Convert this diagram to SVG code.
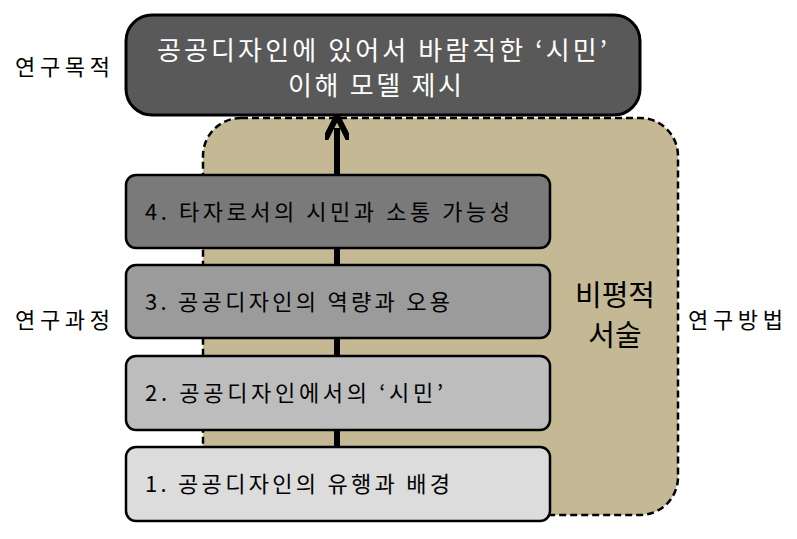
<svg xmlns="http://www.w3.org/2000/svg" width="797" height="539" viewBox="0 0 797 539">
<style>
text{font-family:"Noto Sans CJK KR","Noto Sans",sans-serif}
.b{stroke:#000;stroke-width:2.5}
.t{font-size:22px;fill:#000}
.l{font-size:22px;fill:#000}
</style>
<defs><marker id="ah" markerWidth="4" markerHeight="4" refX="2" refY="2" orient="auto" markerUnits="strokeWidth"><path d="M0,0 L4,2 L0,4" fill="none" stroke="#000" stroke-width="1"/></marker></defs>
<rect width="797" height="539" fill="#fff"/>
<g id="method"><rect x="203" y="118" width="475" height="397" rx="38" fill="#c5b995" stroke="#000" stroke-width="2.5" stroke-dasharray="7,4"/>
<text x="615" y="306" font-size="29" text-anchor="middle">비평적</text><text x="615" y="346" font-size="29" text-anchor="middle">서술</text></g>
<g id="connectors"><line x1="337" y1="450" x2="337" y2="128" stroke="#000" stroke-width="6" marker-end="url(#ah)"/></g>
<g id="goal"><rect x="126" y="15" width="514" height="100" rx="26" fill="#595959" stroke="#000" stroke-width="3"/>
<text x="157" y="60" font-size="26" fill="#fff" textLength="450" lengthAdjust="spacing">공공디자인에 있어서 바람직한 ‘시민’</text>
<text x="288" y="95" font-size="26" fill="#fff" textLength="174" lengthAdjust="spacing">이해 모델 제시</text></g>
<g id="n4"><rect class="b" x="126" y="175" width="424" height="73" rx="10" fill="#7a7a7a"/><text class="t" x="145" y="220" textLength="365" lengthAdjust="spacing">4. 타자로서의 시민과 소통 가능성</text></g>
<g id="n3"><rect class="b" x="126" y="265" width="424" height="73" rx="10" fill="#9b9b9b"/><text class="t" x="145" y="310" textLength="305" lengthAdjust="spacing">3. 공공디자인의 역량과 오용</text></g>
<g id="n2"><rect class="b" x="126" y="356" width="424" height="74" rx="10" fill="#bdbdbd"/><text class="t" x="145" y="401" textLength="298" lengthAdjust="spacing">2. 공공디자인에서의 ‘시민’</text></g>
<g id="n1"><rect class="b" x="126" y="447" width="424" height="74" rx="10" fill="#dcdcdc"/><text class="t" x="145" y="492" textLength="305" lengthAdjust="spacing">1. 공공디자인의 유행과 배경</text></g>
<g id="labels"><text class="l" x="15" y="75" textLength="95" lengthAdjust="spacing">연구목적</text><text class="l" x="15" y="328" textLength="95" lengthAdjust="spacing">연구과정</text><text class="l" x="688" y="328" textLength="95" lengthAdjust="spacing">연구방법</text></g>
</svg>
